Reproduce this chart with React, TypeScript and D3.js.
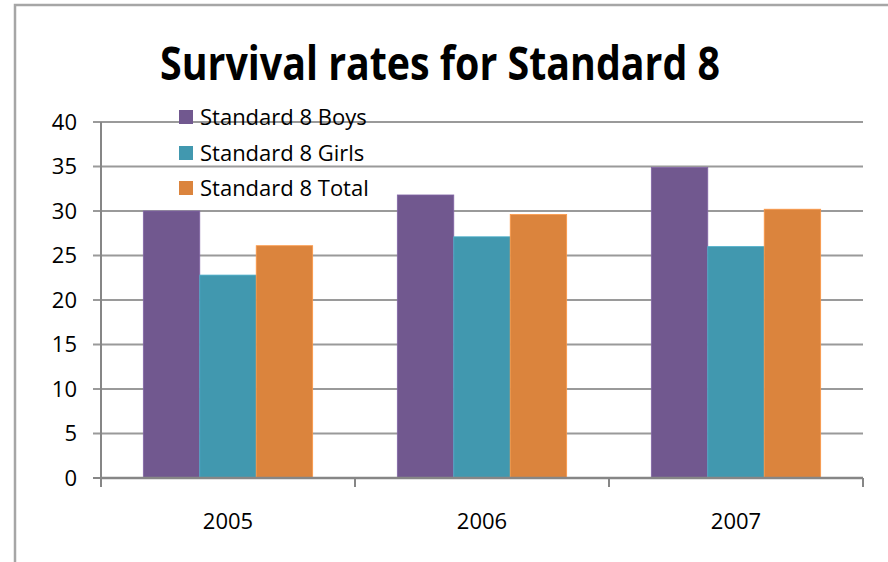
import React, { useEffect, useRef } from "react";
import * as d3 from "d3";

const years = ["2005", "2006", "2007"];
const series = ["Standard 8 Boys", "Standard 8 Girls", "Standard 8 Total"];
const boys = [30.0, 31.8, 34.9];
const girls = [22.8, 27.1, 26.0];
const total = [26.1, 29.6, 30.2];
const colors = ["#71588f", "#4198af", "#db843d"];
const yTicks = [0, 5, 10, 15, 20, 25, 30, 35, 40];

const W = 888;
const H = 562;

const App = () => {
  const ref = useRef(null);

  useEffect(() => {
    if (!ref.current) return;
    const svg = d3.select(ref.current);
    svg.selectAll("*").remove();

    const font = "Open Sans, Noto Sans, sans-serif";
    const left = 101, right = 863, top = 122, bottom = 478;

    // frame
    svg.append("path")
      .attr("d", `M15,${H} L15,5 L${W},5`)
      .attr("fill", "none")
      .attr("stroke", "#a6a6a6")
      .attr("stroke-width", 2.5);

    const x = d3.scaleBand().domain(years).range([left, right]);
    const y = d3.scaleLinear().domain([0, 40]).range([bottom, top]);
    // bars take 2/3 of each band (gap width 150%)
    const groupW = x.bandwidth() * (3 / 4.5);
    const sub = d3.scaleBand().domain(series).range([0, groupW]);

    // gridlines
    svg.append("g").selectAll("line").data(yTicks.filter((t) => t > 0)).join("line")
      .attr("x1", left - 8).attr("x2", right)
      .attr("y1", (d) => y(d)).attr("y2", (d) => y(d))
      .attr("stroke", "#9a9a9a").attr("stroke-width", 2);

    svg.append("line").attr("x1", left - 8).attr("x2", left).attr("y1", y(0)).attr("y2", y(0))
      .attr("stroke", "#868686").attr("stroke-width", 2);

    // bars
    const rows = years.map((yr, i) => ({ yr, vals: [boys[i], girls[i], total[i]] }));
    const g = svg.append("g");
    rows.forEach((r) => {
      const x0 = (x(r.yr) as number) + (x.bandwidth() - groupW) / 2;
      g.selectAll(null).data(r.vals).join("rect")
        .attr("x", (_d, j) => x0 + (sub(series[j]) as number))
        .attr("y", (d) => y(d))
        .attr("width", sub.bandwidth())
        .attr("height", (d) => bottom - y(d))
        .attr("fill", (_d, j) => colors[j])
        .attr("stroke", (_d, j) => d3.color(colors[j])!.brighter(0.4).toString())
        .attr("stroke-width", 0.8);
    });

    // axes lines
    svg.append("line").attr("x1", left).attr("x2", left).attr("y1", top).attr("y2", bottom)
      .attr("stroke", "#868686").attr("stroke-width", 2);
    svg.append("line").attr("x1", left).attr("x2", right).attr("y1", bottom).attr("y2", bottom)
      .attr("stroke", "#868686").attr("stroke-width", 2.5);
    const catTicks = [...years.map((d) => x(d) as number), right];
    svg.append("g").selectAll("line").data(catTicks).join("line")
      .attr("x1", (d) => d).attr("x2", (d) => d)
      .attr("y1", bottom).attr("y2", bottom + 9)
      .attr("stroke", "#868686").attr("stroke-width", 2);

    // y labels
    svg.append("g").selectAll("text").data(yTicks).join("text")
      .attr("x", 77).attr("y", (d) => y(d))
      .attr("dy", "0.36em")
      .attr("text-anchor", "end")
      .attr("font-family", font).attr("font-size", 22)
      .attr("fill", "#000")
      .text((d) => d);

    // x labels
    svg.append("g").selectAll("text").data(years).join("text")
      .attr("x", (d) => (x(d) as number) + x.bandwidth() / 2)
      .attr("y", 529)
      .attr("text-anchor", "middle")
      .attr("font-family", font).attr("font-size", 22)
      .attr("fill", "#000")
      .text((d) => d);

    // title
    svg.append("text")
      .attr("x", 440).attr("y", 80)
      .attr("text-anchor", "middle")
      .attr("font-family", font).attr("font-size", 47).attr("font-weight", "bold")
      .attr("textLength", 560).attr("lengthAdjust", "spacingAndGlyphs")
      .text("Survival rates for Standard 8");

    // legend
    const lg = svg.append("g");
    const legY = [117, 153, 188];
    series.forEach((s, i) => {
      lg.append("rect").attr("x", 179).attr("y", legY[i] - 7).attr("width", 14).attr("height", 14)
        .attr("fill", colors[i]);
      lg.append("text").attr("x", 200).attr("y", legY[i]).attr("dy", "0.36em")
        .attr("font-family", font).attr("font-size", 22).attr("fill", "#000")
        .text(s);
    });
  }, []);

  return (
    <svg ref={ref} width={W} height={H}
      style={{ position: "absolute", left: 0, top: 0, background: "#fff" }} />
  );
};

export default App;
